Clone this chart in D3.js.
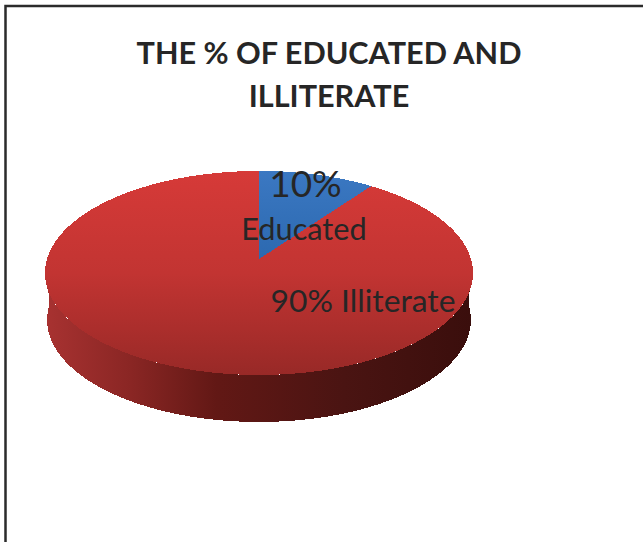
<!DOCTYPE html>
<html>
<head>
<meta charset="utf-8">
<script src="https://cdn.jsdelivr.net/npm/d3@7"></script>
<style>
html,body{margin:0;padding:0;background:#fff;}
svg{display:block;}
text{font-family:Lato,"Open Sans",sans-serif;fill:#262626;}
</style>
</head>
<body>
<svg id="chart" width="643" height="542"></svg>
<script>
const categories = ["Educated", "Illiterate"];
const shares = [10, 90];
const titleLines = ["THE % OF EDUCATED AND", "ILLITERATE"];

const svg = d3.select("#chart");
const defs = svg.append("defs");

function linearGradient(id, horizontal, stops) {
  const g = defs.append("linearGradient").attr("id", id)
    .attr("x1", 0).attr("y1", 0)
    .attr("x2", horizontal ? 1 : 0).attr("y2", horizontal ? 0 : 1);
  stops.forEach(([o, c]) => g.append("stop").attr("offset", o).attr("stop-color", c));
}
linearGradient("faceRed", false, [[0, "#d63a38"], [0.5, "#c23432"], [1, "#982927"]]);
linearGradient("faceBlue", false, [[0, "#3b78c2"], [1, "#2c69b0"]]);
linearGradient("wallRed", true, [[0, "#a83231"], [0.2, "#8a2624"], [0.4, "#621815"], [0.7, "#4a1412"], [1, "#3a0e0c"]]);

// Chart frame: only the top and left edges are in view
svg.append("path").attr("d", "M5.5,542V6H643").attr("fill", "none")
  .attr("stroke", "#2b2b2b").attr("stroke-width", 2.5);

// Title
svg.selectAll("text.title").data(titleLines).join("text").attr("class", "title")
  .attr("x", 329).attr("y", (d, i) => 64 + i * 43)
  .attr("text-anchor", "middle").attr("font-size", 30.6).attr("font-weight", 700)
  .text(d => d);

// Perspective disc: a unit circle projected so the centre sits above the outline's middle
const apex = { x: 259, y: 259 };
const tilt = -0.137;
const scaleX = 212, scaleY = 100.1;
const depth = 47;

function project(angle) {
  const u = Math.sin(angle), v = Math.cos(angle);
  const w = 1 - tilt * v;
  return [apex.x + scaleX * u / w, apex.y - scaleY * v / w];
}
function rimPoints(a0, a1) {
  return d3.range(0, 1.0001, 1 / 120).map(t => project(a0 + (a1 - a0) * t));
}
const line = d3.line();

const slices = d3.pie().sort(null)(shares);

// Side wall: the outline swept downward, its lower rim drawn in slightly
const rim = rimPoints(Math.PI / 2, Math.PI * 1.5);
const lowerRim = rim.slice().reverse().map(([x, y]) => [apex.x + (x - apex.x) * 0.99, y + depth]);
svg.append("path").attr("d", line(rim.concat(lowerRim)) + "Z").attr("fill", "url(#wallRed)")
  .attr("shape-rendering", "crispEdges");

// Top face
const fills = ["url(#faceBlue)", "url(#faceRed)"];
svg.selectAll("path.slice").data(slices).join("path").attr("class", "slice")
  .attr("d", d => line([[apex.x, apex.y]].concat(rimPoints(d.startAngle, d.endAngle))) + "Z")
  .attr("fill", (d, i) => fills[i])
  .attr("shape-rendering", "crispEdges");

// Slice labels
svg.append("text").attr("x", 305.5).attr("y", 196.5).attr("text-anchor", "middle")
  .attr("font-size", 37).text(shares[0] + "%");
svg.append("text").attr("x", 304).attr("y", 240).attr("text-anchor", "middle")
  .attr("font-size", 30.7).text(categories[0]);
svg.append("text").attr("x", 363).attr("y", 311.5).attr("text-anchor", "middle")
  .attr("font-size", 31.8).text(shares[1] + "% " + categories[1]);
</script>
</body>
</html>
